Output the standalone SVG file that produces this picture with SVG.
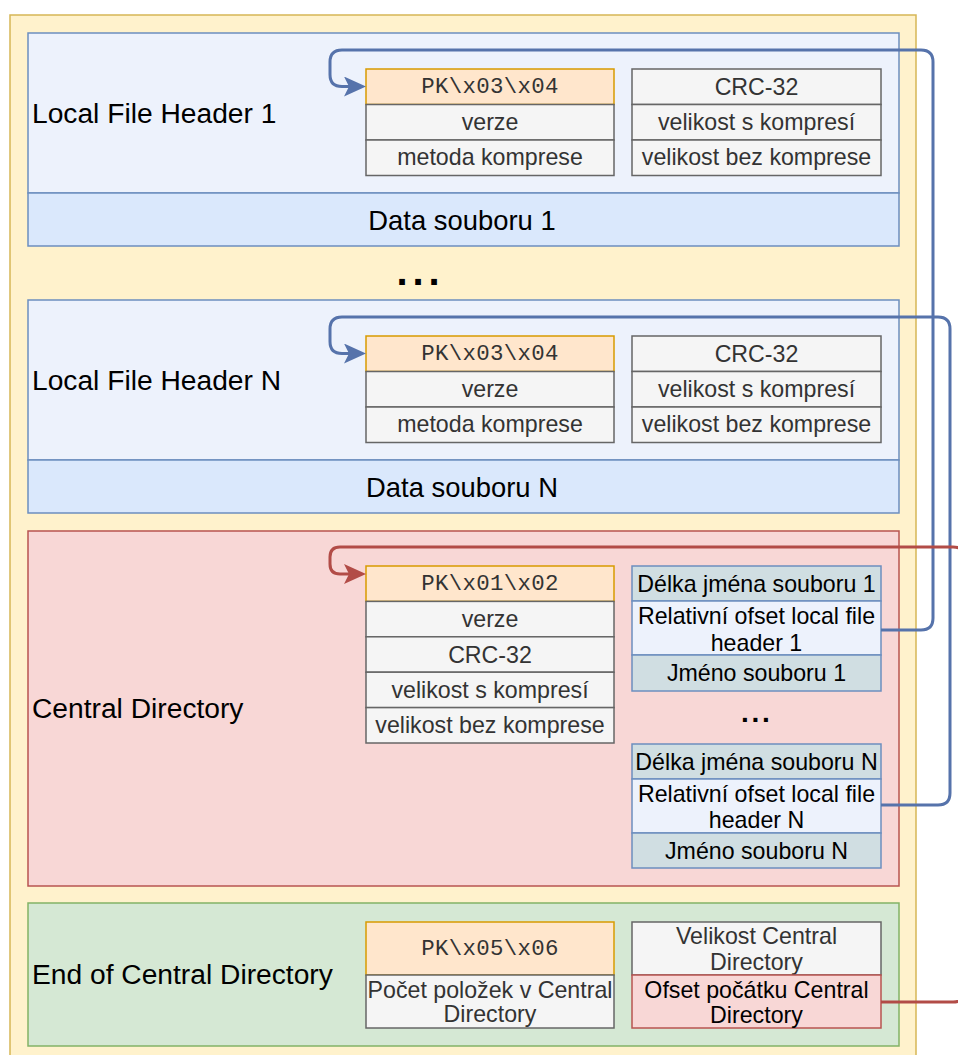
<svg xmlns="http://www.w3.org/2000/svg" width="958" height="1055" viewBox="0 0 958 1055">
<style>
text{font-family:"Liberation Sans",Arial,Helvetica,sans-serif}
.lbl{font-size:28.2px;fill:#000}
.dat{font-size:27.4px;fill:#000;text-anchor:middle}
.f{font-size:23.2px;fill:#333;text-anchor:middle}
.k{fill:#000}
.mono{font-family:"Liberation Mono","Courier New",monospace;font-size:22.4px;letter-spacing:0.3px;fill:#333;text-anchor:middle}
.gray{fill:#f5f5f5;stroke:#666;stroke-width:1.5}
.org{fill:#ffe6cc;stroke:#d79b00;stroke-width:1.5}
.lb{fill:#edf2fc;stroke:#6c8ebf;stroke-width:1.5}
.blue{fill:#dae8fc;stroke:#6c8ebf;stroke-width:1.5}
.teal{fill:#d0dee2;stroke:#6c8ebf;stroke-width:1.5}
.red{fill:#f8d7d6;stroke:#b85450;stroke-width:1.5}
.grn{fill:#d5e8d4;stroke:#82b366;stroke-width:1.5}
.cb{fill:none;stroke:#5673ab;stroke-width:3}
.cr{fill:none;stroke:#b24c47;stroke-width:3}
</style>
<defs>
<marker id="ab" markerUnits="userSpaceOnUse" markerWidth="24" markerHeight="22" refX="14" refY="10" orient="auto" viewBox="0 0 24 22">
<path d="M0,0 L22,10 L0,20 L5,10 Z" fill="#5673ab"/>
</marker>
<marker id="ar" markerUnits="userSpaceOnUse" markerWidth="24" markerHeight="22" refX="14" refY="10" orient="auto" viewBox="0 0 24 22">
<path d="M0,0 L22,10 L0,20 L5,10 Z" fill="#b24c47"/>
</marker>
</defs>

<g id="zip">
<rect x="10" y="15" width="906" height="1055" fill="#fff2cc" stroke="#d6b656" stroke-width="1.5"/>
</g>

<g id="lfh1">
<rect class="lb" x="28" y="33" width="871" height="160"/>
<text class="lbl" x="32" y="123">Local File Header 1</text>
<rect class="org" x="366" y="69" width="248" height="35.5"/>
<text class="mono" x="490" y="93">PK\x03\x04</text>
<rect class="gray" x="366" y="104.5" width="248" height="35.5"/>
<text class="f" x="490" y="129.5">verze</text>
<rect class="gray" x="366" y="140" width="248" height="35.5"/>
<text class="f" x="490" y="165">metoda komprese</text>
<rect class="gray" x="632" y="69" width="249" height="35.5"/>
<text class="f" x="756.5" y="94.5">CRC-32</text>
<rect class="gray" x="632" y="104.5" width="249" height="35.5"/>
<text class="f" x="756.5" y="130">velikost s kompresí</text>
<rect class="gray" x="632" y="140" width="249" height="35.5"/>
<text class="f" x="756.5" y="165">velikost bez komprese</text>
</g>
<g id="data1">
<rect class="blue" x="28" y="193" width="871" height="53"/>
<text class="dat" x="462" y="230">Data souboru 1</text>
</g>

<g id="dots1">
<text x="396.5" y="285" style="font-size:40px;font-weight:bold;letter-spacing:4.9px;fill:#000">...</text>
</g>

<g id="lfhN">
<rect class="lb" x="28" y="300" width="871" height="160"/>
<text class="lbl" x="32" y="390">Local File Header N</text>
<rect class="org" x="366" y="336" width="248" height="35.5"/>
<text class="mono" x="490" y="360">PK\x03\x04</text>
<rect class="gray" x="366" y="371.5" width="248" height="35.5"/>
<text class="f" x="490" y="396.5">verze</text>
<rect class="gray" x="366" y="407" width="248" height="35.5"/>
<text class="f" x="490" y="432">metoda komprese</text>
<rect class="gray" x="632" y="336" width="249" height="35.5"/>
<text class="f" x="756.5" y="361.5">CRC-32</text>
<rect class="gray" x="632" y="371.5" width="249" height="35.5"/>
<text class="f" x="756.5" y="397">velikost s kompresí</text>
<rect class="gray" x="632" y="407" width="249" height="35.5"/>
<text class="f" x="756.5" y="432">velikost bez komprese</text>
</g>
<g id="dataN">
<rect class="blue" x="28" y="460" width="871" height="53"/>
<text class="dat" x="462" y="497">Data souboru N</text>
</g>

<g id="cd">
<rect class="red" x="28" y="531" width="871" height="355"/>
<text class="lbl" x="32" y="718">Central Directory</text>
<rect class="org" x="366" y="566" width="248" height="35.4"/>
<text class="mono" x="490" y="590">PK\x01\x02</text>
<rect class="gray" x="366" y="601.4" width="248" height="35.4"/>
<text class="f" x="490" y="627">verze</text>
<rect class="gray" x="366" y="636.8" width="248" height="35.4"/>
<text class="f" x="490" y="662.5">CRC-32</text>
<rect class="gray" x="366" y="672.2" width="248" height="35.4"/>
<text class="f" x="490" y="697.5">velikost s kompresí</text>
<rect class="gray" x="366" y="707.6" width="248" height="35.4"/>
<text class="f" x="490" y="733">velikost bez komprese</text>
</g>

<g id="entry1">
<rect class="teal" x="632" y="566" width="249" height="35"/>
<text class="f k" x="756.5" y="591.5">Délka jména souboru 1</text>
<rect class="lb" x="632" y="601" width="249" height="54"/>
<text class="f k" x="756.5" y="624">Relativní ofset local file</text>
<text class="f k" x="756.5" y="650.5">header 1</text>
<rect class="teal" x="632" y="655" width="249" height="36"/>
<text class="f k" x="756.5" y="680.5">Jméno souboru 1</text>
</g>

<g id="dots2">
<text x="741" y="722" style="font-size:28px;font-weight:bold;letter-spacing:2.7px;fill:#000">...</text>
</g>

<g id="entryN">
<rect class="teal" x="632" y="744" width="249" height="35"/>
<text class="f k" x="756.5" y="769.5">Délka jména souboru N</text>
<rect class="lb" x="632" y="779" width="249" height="54"/>
<text class="f k" x="756.5" y="802">Relativní ofset local file</text>
<text class="f k" x="756.5" y="827.5">header N</text>
<rect class="teal" x="632" y="833" width="249" height="35"/>
<text class="f k" x="756.5" y="858.5">Jméno souboru N</text>
</g>

<g id="eocd">
<rect class="grn" x="28" y="903" width="871" height="143"/>
<text class="lbl" x="32" y="984">End of Central Directory</text>
<rect class="org" x="366" y="922" width="248" height="53"/>
<text class="mono" x="490" y="955">PK\x05\x06</text>
<rect class="gray" x="366" y="975" width="248" height="53"/>
<text class="f" x="490" y="997.5">Počet položek v Central</text>
<text class="f" x="490" y="1022">Directory</text>
<rect class="gray" x="632" y="922" width="249" height="53"/>
<text class="f" x="756.5" y="943.5">Velikost Central</text>
<text class="f" x="756.5" y="969.5">Directory</text>
<rect class="red" x="632" y="975" width="249" height="53"/>
<text class="f k" x="756.5" y="997.5">Ofset počátku Central</text>
<text class="f k" x="756.5" y="1022.5">Directory</text>
</g>

<g id="connectors">
<path class="cb" marker-end="url(#ab)" d="M881,630 H921 Q933,630 933,618 V62 Q933,50 921,50 H342 Q330,50 330,62 V74.5 Q330,86.5 342,86.5 H358"/>
<path class="cb" marker-end="url(#ab)" d="M881,805 H938 Q950,805 950,793 V329 Q950,317 938,317 H342 Q330,317 330,329 V341.5 Q330,353.5 342,353.5 H358"/>
<path class="cr" marker-end="url(#ar)" d="M881,1002 H953 Q965,1002 965,990 V559 Q965,547 953,547 H340 Q330,547 330,557 V564 Q330,574 340,574 H358"/>
</g>
</svg>
